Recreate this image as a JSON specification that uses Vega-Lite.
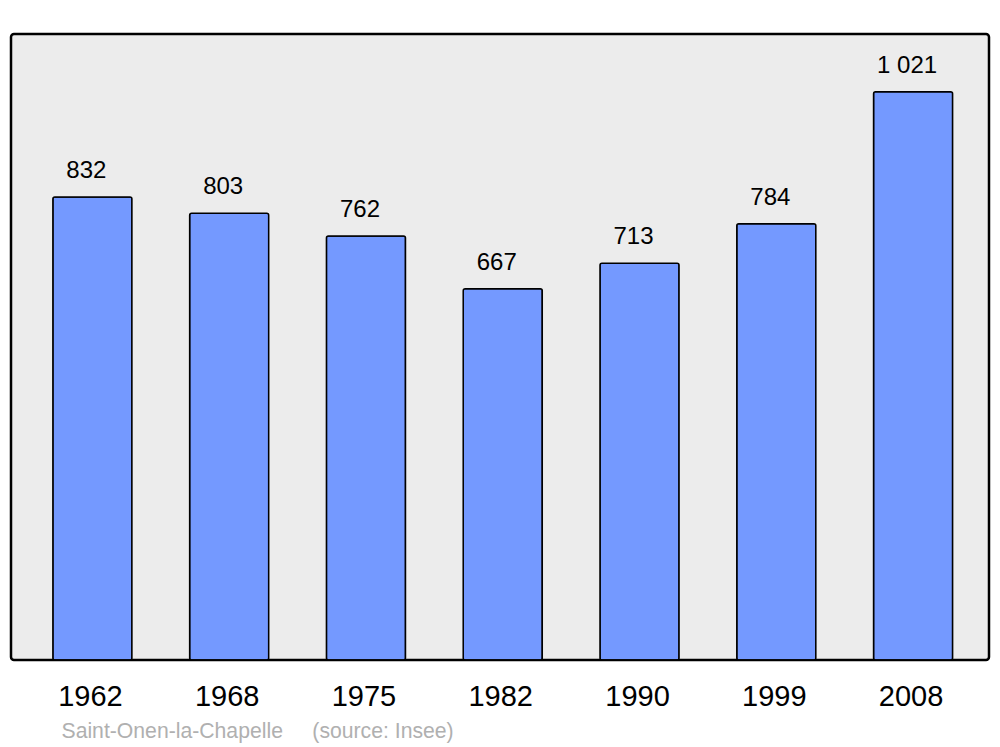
{
  "$schema": "https://vega.github.io/schema/vega-lite/v6.json",
  "width": 978,
  "height": 626,
  "autosize": "none",
  "padding": {"left": 11, "top": 34, "right": 11, "bottom": 87},
  "background": "#ffffff",
  "config": {
    "font": "Liberation Sans",
    "view": {"fill": "#ececec", "stroke": "#000000", "strokeWidth": 2.5, "cornerRadius": 3}
  },
  "data": {
    "values": [
      {"year": "1962", "population": 832, "label": "832"},
      {"year": "1968", "population": 803, "label": "803"},
      {"year": "1975", "population": 762, "label": "762"},
      {"year": "1982", "population": 667, "label": "667"},
      {"year": "1990", "population": 713, "label": "713"},
      {"year": "1999", "population": 784, "label": "784"},
      {"year": "2008", "population": 1021, "label": "1 021"}
    ]
  },
  "encoding": {
    "x": {
      "field": "year",
      "type": "nominal",
      "sort": null,
      "scale": {"paddingInner": 0.422, "paddingOuter": 0.286, "align": 0.535},
      "axis": {
        "title": "Saint-Onen-la-Chapelle\u00a0\u00a0\u00a0\u00a0\u00a0(source: Insee)",
        "titleFont": "Liberation Sans",
        "titleFontSize": 21.2,
        "titleFontWeight": "normal",
        "titleColor": "#b0b0b0",
        "titleBaseline": "alphabetic",
        "titleAlign": "left",
        "titleAnchor": "start",
        "titleX": 50,
        "titleY": 77,
        "labelAngle": 0,
        "labelFontSize": 29,
        "labelColor": "#000000",
        "labelBaseline": "alphabetic",
        "labelPadding": 45,
        "labelOffset": -2,
        "domain": false,
        "ticks": false,
        "grid": false
      }
    },
    "y": {
      "field": "population",
      "type": "quantitative",
      "scale": {"domain": [0, 1125], "nice": false, "zero": true},
      "axis": null
    }
  },
  "layer": [
    {
      "mark": {"type": "bar", "fill": "#7499ff", "stroke": "#000000", "strokeWidth": 1.5, "cornerRadius": 2}
    },
    {
      "mark": {"type": "text", "baseline": "alphabetic", "dy": -19, "dx": -6, "fontSize": 24, "color": "#000000"},
      "encoding": {"text": {"field": "label"}}
    }
  ]
}
